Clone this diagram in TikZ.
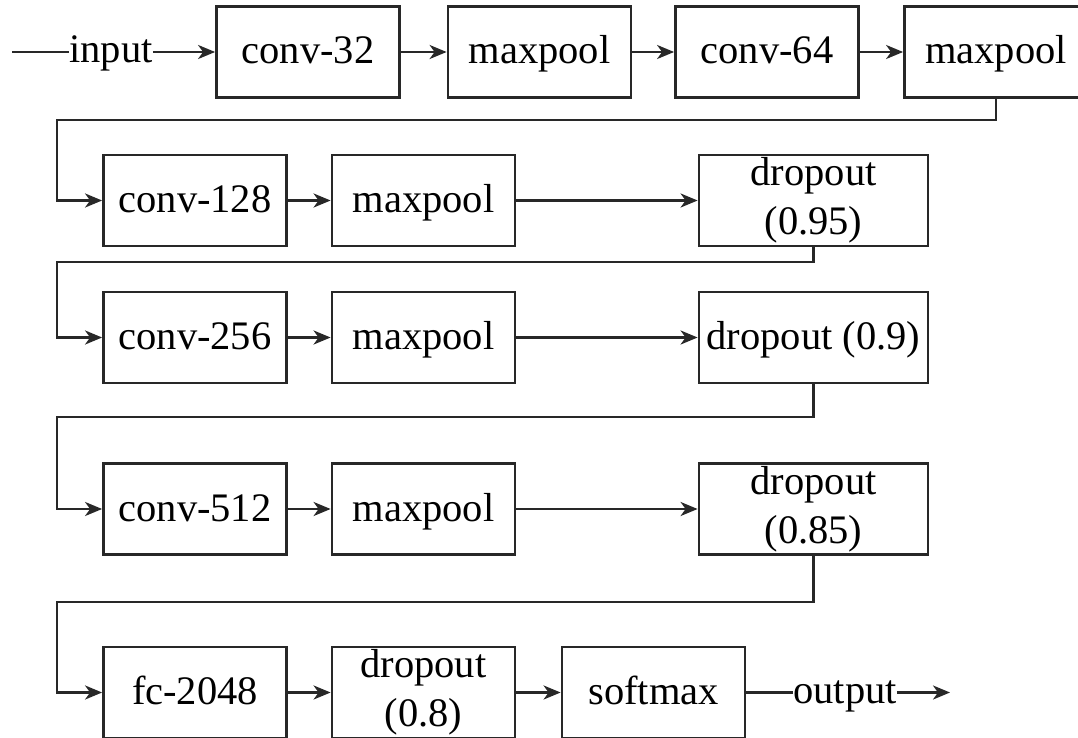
\documentclass[tikz,border=0pt]{standalone}
\usepackage{fontspec}
\setmainfont{Liberation Serif}
\usetikzlibrary{arrows.meta}

\definecolor{ink}{RGB}{40,40,40}

\tikzset{
  layer/.style={draw=ink, line width=2.8pt, minimum height=91pt, inner sep=0pt,
    align=center, text=black, font=\fontsize{40.5}{49}\selectfont},
  narrow/.style={layer, minimum width=183pt},
  wide/.style={layer, minimum width=229pt},
  oneline/.style={text height=32pt, text depth=8pt},
  label/.style={inner sep=0pt, text=black, text height=28pt, text depth=6pt,
    font=\fontsize{40.5}{49}\selectfont},
  flow/.style={draw=ink, line width=2.5pt,
    -{Stealth[length=17pt, width=14pt, inset=5pt]}},
  wire/.style={draw=ink, line width=2.5pt}
}

\begin{document}
\begin{tikzpicture}[x=1pt, y=-1pt]
\useasboundingbox (0,0) rectangle (1078,738);
\clip (0,0) rectangle (1078,738);

% row 1
\node[narrow, oneline] (c32)  at (308,52)   {conv-32};
\node[narrow, oneline] (mp1)  at (539.5,52) {maxpool};
\node[narrow, oneline] (c64)  at (767,52)   {conv-64};
\node[narrow, oneline] (mp2)  at (996,52)   {maxpool};

% row 2
\node[narrow, oneline] (c128) at (195,200.5)   {conv-128};
\node[narrow, oneline] (mp3)  at (423.5,200.5) {maxpool};
\node[wide]            (d95)  at (813.5,200.5) {dropout\\(0.95)};

% row 3
\node[narrow, oneline] (c256) at (195,337.5)   {conv-256};
\node[narrow, oneline] (mp4)  at (423.5,337.5) {maxpool};
\node[wide, oneline]   (d90)  at (813.5,337.5) {dropout (0.9)};

% row 4
\node[narrow, oneline] (c512) at (195,509)   {conv-512};
\node[narrow, oneline] (mp5)  at (423.5,509) {maxpool};
\node[wide]            (d85)  at (813.5,509) {dropout\\(0.85)};

% row 5
\node[narrow, oneline] (fc)   at (195,692.5)   {fc-2048};
\node[narrow]          (d80)  at (423.5,692.5) {dropout\\(0.8)};
\node[narrow, oneline] (soft) at (653.5,692.5) {softmax};

% input and output
\coordinate (start) at (12,52);
\node[label] (in)  at (111,52)    {input};
\node[label] (out) at (845,692.5) {output};
\coordinate (end) at (950,692.5);

\draw[wire] (start) -- (in.west);
\draw[flow] (in.east) -- (c32.west);
\draw[flow] (c32) -- (mp1);
\draw[flow] (mp1) -- (c64);
\draw[flow] (c64) -- (mp2);

% returns to the next row
\coordinate (r1a) at (996,120);  \coordinate (r1b) at (57,120);
\coordinate (r2a) at (813.5,262); \coordinate (r2b) at (57,262);
\coordinate (r3a) at (813.5,417); \coordinate (r3b) at (57,417);
\coordinate (r4a) at (813.5,602); \coordinate (r4b) at (57,602);

\draw[flow] (mp2.south) -- (r1a) -- (r1b) |- (c128.west);
\draw[flow] (c128) -- (mp3);
\draw[flow] (mp3) -- (d95);

\draw[flow] (d95.south) -- (r2a) -- (r2b) |- (c256.west);
\draw[flow] (c256) -- (mp4);
\draw[flow] (mp4) -- (d90);

\draw[flow] (d90.south) -- (r3a) -- (r3b) |- (c512.west);
\draw[flow] (c512) -- (mp5);
\draw[flow] (mp5) -- (d85);

\draw[flow] (d85.south) -- (r4a) -- (r4b) |- (fc.west);
\draw[flow] (fc) -- (d80);
\draw[flow] (d80) -- (soft);

\draw[wire] (soft.east) -- (out.west);
\draw[flow] (out.east) -- (end);
\end{tikzpicture}
\end{document}
